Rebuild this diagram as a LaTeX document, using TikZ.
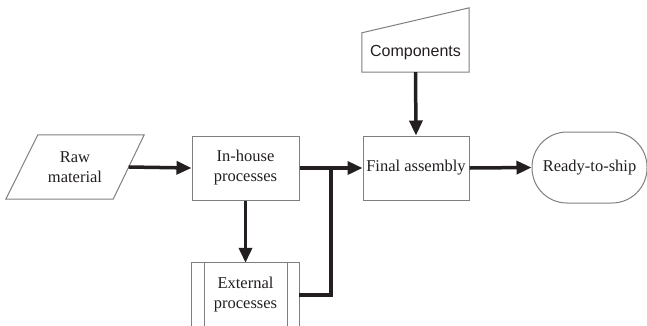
\documentclass[tikz,border=0pt]{standalone}
\usepackage{fontspec}
\setmainfont{Liberation Serif}
\newfontfamily\arialfont{Liberation Sans}
\usetikzlibrary{arrows.meta,calc}
\definecolor{ink}{HTML}{231F20}
\definecolor{edge}{HTML}{7F7F7F}
\begin{document}
\begin{tikzpicture}[x=1pt,y=-1pt,
  every node/.style={text=ink,font=\fontsize{16.5}{20}\selectfont,align=center,inner sep=0pt},
  shapebox/.style={minimum width=#1,minimum height=64},
  outline/.style={draw=edge,line width=1pt,line join=miter},
  flow/.style={draw=ink,line width=3.5pt,-{Triangle[length=15pt,width=13pt]}},
  plainflow/.style={draw=ink,line width=3.5pt}]
\useasboundingbox (0,0) rectangle (647,325);
\clip (0,0) rectangle (647,325);
% nodes
\node[shapebox=138] (raw) at (75,167) {Raw\\material};
\node[shapebox=107,outline] (inh) at (245.5,168) {In-house\\processes};
\node[shapebox=106,outline] (fin) at (416,168) {Final assembly};
\node[outline,rounded corners=35pt,minimum width=115,minimum height=71] (rdy) at (589.5,167.5) {Ready-to-ship};
\node[minimum width=107,minimum height=39,font=\arialfont\fontsize{16}{20}\selectfont] (comp) at (415.5,52.5) {Components};
\node[shapebox=107] (ext) at (245.5,295) {External\\processes};
\coordinate (j) at (331,168);
% special outlines
\draw[outline] ($(raw.south west)$) -- ($(raw.north west)+(32,0)$) -- (raw.north east) -- ($(raw.south east)+(-31,0)$) -- cycle;
\draw[outline] (comp.south west) -- (comp.north west) -- ($(comp.north east)+(0,-25)$) -- (comp.south east) -- cycle;
\draw[outline] (ext.south west) rectangle (ext.north east);
\draw[outline] ($(ext.north west)+(13,0)$) -- ($(ext.south west)+(13,0)$);
\draw[outline] ($(ext.north east)+(-12,0)$) -- ($(ext.south east)+(-12,0)$);
% connectors
\draw[flow] ($(raw.east)+(-15.5,0)$) -- (inh.west);
\draw[flow] (inh.east) -- (fin.west);
\draw[flow] (inh.south) -- (ext.north);
\draw[plainflow] (ext.east) -| (j);
\draw[flow] (comp.south) -- (fin.north);
\draw[flow] (fin.east) -- (rdy.west);
\end{tikzpicture}
\end{document}
